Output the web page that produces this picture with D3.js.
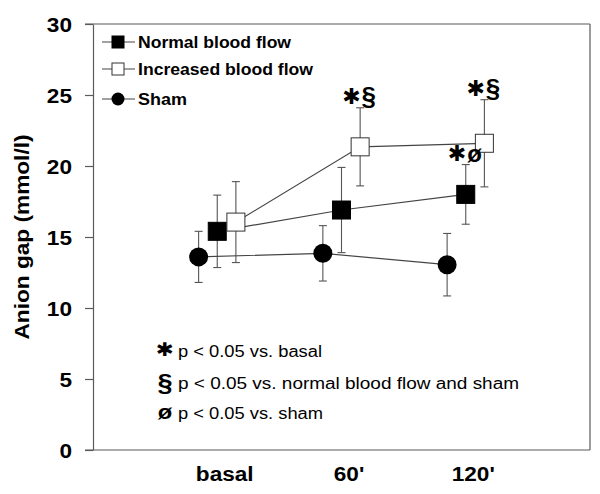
<!DOCTYPE html>
<html><head><meta charset="utf-8">
<script src="https://cdn.jsdelivr.net/npm/d3@7"></script>
<style>
html,body{margin:0;padding:0;background:#fff;}
svg{display:block;font-family:"Liberation Sans",Arial,sans-serif;}
</style></head>
<body>
<svg id="c" width="600" height="494"></svg>
<script>
// ---- data ----
const categories = ["basal", "60'", "120'"];
const seriesNames = ["Normal blood flow", "Increased blood flow", "Sham"];
const normalVals = [15.4, 16.9, 18.0];
const normalErr = [2.55, 3.0, 2.1];
const increasedVals = [16.05, 21.35, 21.6];
const increasedErr = [2.85, 2.75, 3.07];
const shamVals = [13.6, 13.85, 13.05];
const shamErr = [1.8, 1.95, 2.2];
const yTicks = [0, 5, 10, 15, 20, 25, 30];
const sigStar = "\u2731";
const sigSecond = ["\u00A7", "\u00A7", "\u00F8"];
const sigSeries = [1, 1, 0];
const sigCat = [1, 2, 2];
const noteSymbols = ["\u2731", "\u00A7", "\u00F8"];
const noteTexts = ["p < 0.05 vs. basal", "p < 0.05 vs. normal blood flow and sham", "p < 0.05 vs. sham"];

// ---- layout ----
const svg = d3.select("#c");
const X0 = 93, X1 = 590, Y0 = 24, Y1 = 450;
const y = d3.scaleLinear().domain([0, 30]).range([Y1, Y0]);
const x = d3.scaleLinear().domain([-1, 3]).range([X0, X1]);
const offsets = [0, 0.15, -0.15];
const SX = 1.13;
const lineCol = "#444", axisCol = "#5a5a5a";

function stretch(sel, w) {
  sel.each(function () {
    const n = this.getComputedTextLength();
    d3.select(this).attr("textLength", w != null ? w : n * SX).attr("lengthAdjust", "spacingAndGlyphs");
  });
}

const series = [
  {name: seriesNames[0], vals: normalVals, err: normalErr, shape: "square", fill: "#000"},
  {name: seriesNames[1], vals: increasedVals, err: increasedErr, shape: "square", fill: "#fff"},
  {name: seriesNames[2], vals: shamVals, err: shamErr, shape: "circle", fill: "#000"}
];
series.forEach((s, si) => {
  s.pts = s.vals.map((v, i) => ({x: x(i + offsets[si]), v, e: s.err[i]}));
});

// frame
svg.append("line").attr("x1", 85).attr("x2", X1).attr("y1", Y0).attr("y2", Y0).attr("stroke", axisCol).attr("stroke-width", 1.2);
svg.append("line").attr("x1", X1).attr("x2", X1).attr("y1", Y0).attr("y2", Y1).attr("stroke", axisCol).attr("stroke-width", 1.2);

// y axis
const ya = svg.append("g").attr("transform", `translate(${X0},0)`)
  .call(d3.axisLeft(y).tickValues(yTicks).tickSize(8).tickSizeOuter(0).tickPadding(13));
ya.select(".domain").attr("stroke", axisCol).attr("stroke-width", 1.2);
ya.selectAll(".tick line").attr("stroke", axisCol).attr("stroke-width", 1.2);
ya.selectAll(".tick text").attr("font-size", 20).attr("font-weight", "bold").attr("fill", "#000")
  .attr("font-family", "Liberation Sans, Arial, sans-serif").attr("dy", "0.36em").call(stretch);

// x axis
const xa = svg.append("g").attr("transform", `translate(0,${Y1})`)
  .call(d3.axisBottom(x).tickValues([0, 1, 2]).tickFormat(i => categories[i]).tickSize(0).tickSizeOuter(0).tickPadding(17));
xa.select(".domain").remove();
svg.append("line").attr("x1", 85).attr("x2", X1).attr("y1", Y1).attr("y2", Y1).attr("stroke", axisCol).attr("stroke-width", 1.2);
xa.selectAll(".tick text").attr("font-size", 20).attr("font-weight", "bold").attr("fill", "#000")
  .attr("font-family", "Liberation Sans, Arial, sans-serif").attr("dx", 7).call(stretch);

// y title
svg.append("text").attr("transform", `translate(29,${(Y0 + Y1) / 2}) rotate(-90)`)
  .attr("text-anchor", "middle").attr("font-size", 20).attr("font-weight", "bold")
  .text("Anion gap (mmol/l)").call(stretch, 205);

// error bars
series.forEach(s => {
  const g = svg.append("g").attr("stroke", "#555").attr("stroke-width", 1.1);
  s.pts.forEach(p => {
    g.append("line").attr("x1", p.x).attr("x2", p.x).attr("y1", y(p.v - p.e)).attr("y2", y(p.v + p.e));
    [p.v - p.e, p.v + p.e].forEach(t => g.append("line").attr("x1", p.x - 4).attr("x2", p.x + 4).attr("y1", y(t)).attr("y2", y(t)));
  });
});

// lines
const line = d3.line().x(p => p.x).y(p => y(p.v));
series.forEach(s => {
  svg.append("path").attr("d", line(s.pts)).attr("fill", "none").attr("stroke", lineCol).attr("stroke-width", 1.2);
});

// markers
function marker(g, shape, fill, cx, cy, size) {
  if (shape === "square") {
    g.append("rect").attr("x", cx - size / 2).attr("y", cy - size / 2).attr("width", size).attr("height", size)
      .attr("fill", fill).attr("stroke", fill === "#fff" ? "#333" : "#000").attr("stroke-width", 1);
  } else {
    g.append("circle").attr("cx", cx).attr("cy", cy).attr("r", size / 2 + 0.5).attr("fill", fill);
  }
}
series.forEach(s => {
  const g = svg.append("g");
  s.pts.forEach(p => marker(g, s.shape, s.fill, p.x, y(p.v), 18));
});

// significance marks (one text each, two tspans)
sigSecond.forEach((t, k) => {
  const p = series[sigSeries[k]].pts[sigCat[k]];
  const by = y(p.v + p.e) - 3;
  const txt = svg.append("text").attr("x", p.x - 1).attr("y", by).attr("text-anchor", "middle").attr("font-weight", "bold");
  txt.append("tspan").attr("font-size", 22).attr("font-family", "DejaVu Sans, sans-serif").attr("dy", -1).text(sigStar);
  txt.append("tspan").attr("font-size", t === "\u00A7" ? 26 : 24).attr("dx", 1).attr("dy", 1).text(t);
});

// legend
const legY = [42, 69, 99];
const legW = [153, 175, 49];
series.forEach((s, i) => {
  const g = svg.append("g");
  g.append("line").attr("x1", 102).attr("x2", 135).attr("y1", legY[i]).attr("y2", legY[i]).attr("stroke", lineCol).attr("stroke-width", 1.2);
  marker(g, s.shape, s.fill, 118, legY[i], 12);
  g.append("text").attr("x", 138).attr("y", legY[i] + 6).attr("font-size", 16).attr("font-weight", "bold")
    .text(s.name).call(stretch, legW[i]);
});

// notes
const noteY = [357, 389, 419];
const noteW = [144, 341, 145];
noteTexts.forEach((t, i) => {
  const sym = svg.append("text").attr("x", 165).attr("y", noteY[i] + (i === 1 ? 2 : 0)).attr("text-anchor", "middle")
    .attr("font-weight", "bold").text(noteSymbols[i]);
  if (i === 0) sym.attr("font-size", 19).attr("font-family", "DejaVu Sans, sans-serif").attr("y", noteY[i] - 1);
  else if (i === 1) sym.attr("font-size", 24);
  else sym.attr("font-size", 21);
  sym.call(stretch);
  svg.append("text").attr("x", 178).attr("y", noteY[i]).attr("font-size", 16)
    .text(t).call(stretch, noteW[i]);
});
</script>
</body></html>
